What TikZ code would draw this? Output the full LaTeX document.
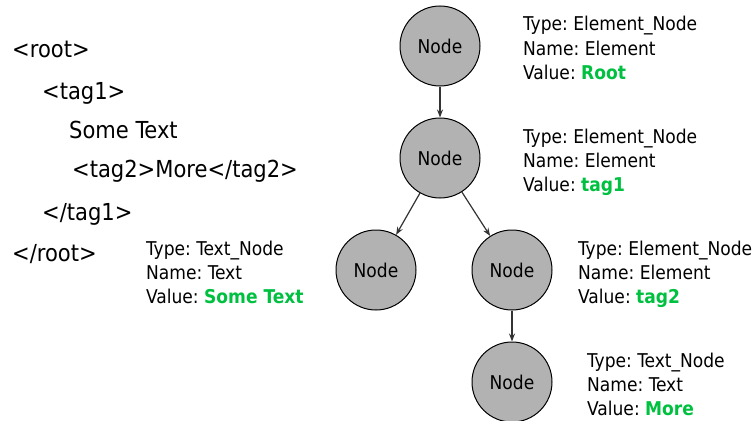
\documentclass[tikz,border=0pt]{standalone}
\usepackage{fontspec}
\setmainfont{DejaVu Sans Condensed}
\usetikzlibrary{arrows.meta}
\definecolor{valgreen}{RGB}{0,192,64}
\definecolor{nodegray}{RGB}{178,178,178}
\newcommand{\nodeval}[1]{\textbf{\color{valgreen}#1}}
\frenchspacing

\begin{document}
\begin{tikzpicture}[x=1pt,y=-1pt,
  treenode/.style={circle,draw=black,line width=1pt,fill=nodegray,minimum size=80pt,inner sep=0pt,font=\fontsize{19}{19}\selectfont},
  info/.style={anchor=base west,align=left,inner sep=0pt,font=\fontsize{19}{24}\selectfont},
  xml/.style={anchor=base west,inner sep=0pt,font=\fontsize{23.4}{28}\selectfont},
  link/.style={draw=black!80,line width=1.2pt,-{Stealth[length=8pt,width=6pt]}}]
\useasboundingbox (0,0) rectangle (754,420);

% Parameters
\def\treeX{440};
\def\topY{46};
\def\levelY{112};
\def\childDX{64};

% XML source
\node[xml] (x-root)  at (12,58)  {<root>};
\node[xml] (x-tag1)  at (42,99)  {<tag1>};
\node[xml] (x-some)  at (69,138) {Some Text};
\node[xml] (x-tag2)  at (72,177) {<tag2>More</tag2>};
\node[xml] (x-etag1) at (42,220) {</tag1>};
\node[xml] (x-eroot) at (12,261) {</root>};

% Tree nodes
\node[treenode] (n-root) at (\treeX,\topY) {Node};
\node[treenode] (n-tag1) at (\treeX,\topY+\levelY) {Node};
\node[treenode] (n-text) at (\treeX-\childDX,\topY+2*\levelY) {Node};
\node[treenode] (n-tag2) at (\treeX+\childDX+8,\topY+2*\levelY) {Node};
\node[treenode] (n-more) at (\treeX+\childDX+8,\topY+3*\levelY) {Node};

% Links
\draw[link] (n-root) -- (n-tag1);
\draw[link] (n-tag1) -- (n-text);
\draw[link] (n-tag1) -- (n-tag2);
\draw[link] (n-tag2) -- (n-more);

% Node info (anchored at the baseline of the last line)
\node[info] (i-root) at (523,79)  {Type: Element\_Node\\Name: Element\\Value: \nodeval{Root}};
\node[info] (i-tag1) at (523,191) {Type: Element\_Node\\Name: Element\\Value: \nodeval{tag1}};
\node[info] (i-tag2) at (578,303) {Type: Element\_Node\\Name: Element\\Value: \nodeval{tag2}};
\node[info] (i-more) at (587,415) {Type: Text\_Node\\Name: Text\\Value: \nodeval{More}};
\node[info] (i-text) at (146,303) {Type: Text\_Node\\Name: Text\\Value: \nodeval{Some Text}};

\end{tikzpicture}
\end{document}
